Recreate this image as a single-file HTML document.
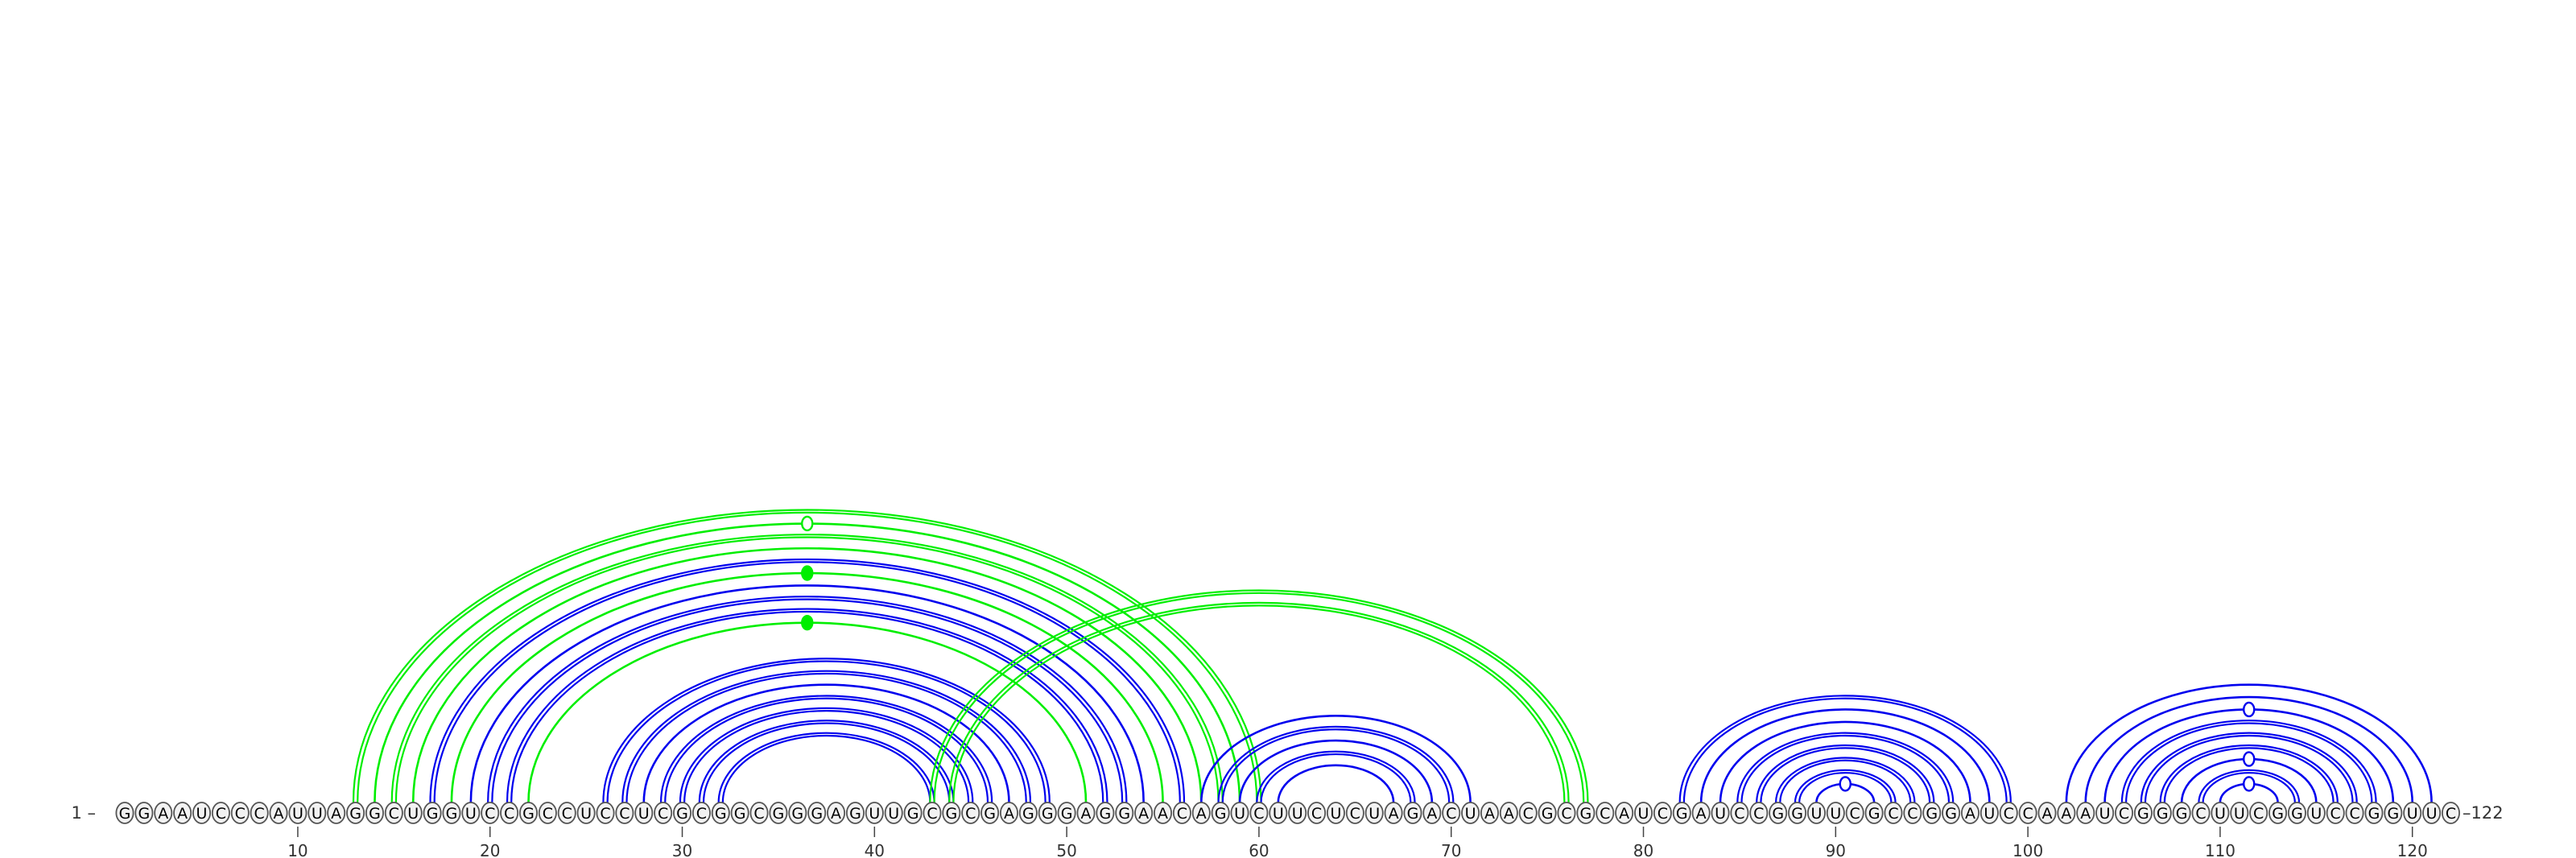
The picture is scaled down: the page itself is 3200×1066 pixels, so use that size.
<!DOCTYPE html>
<html><head><meta charset="utf-8"><style>
html,body{margin:0;padding:0;background:#fff;}
svg{display:block;}
text{font-family:"DejaVu Sans","Liberation Sans",sans-serif;}
</style></head><body>
<svg id="chart" width="3200" height="1066" viewBox="0 0 3200 1066" xmlns="http://www.w3.org/2000/svg">
<g id="arcs"></g>
<g id="nts"></g>
<g id="ticks"></g>
<text x="119" y="1017" font-size="21" fill="#333" text-anchor="end">1 –</text>
<text x="3059" y="1017" font-size="21" fill="#333">–122</text>
</svg>
<script>
const sequence = "GGAAUCCCAUUAGGCUGGUCCGCCUCCUCGCGGCGGGAGUUGCGCGAGGGAGGAACAGUCUUCUCUAGACUAACGCGCAUCGAUCCGGUUCGCCGGAUCCAAAUCGGGCUUCGGUCCGGUUC";
const pairLeft  = [13,14,15,16,17,18,19,20,21,22, 26,27,28,29,30,31,32, 43,44, 57,58,59,60,61, 82,83,84,85,86,87,88,89, 102,103,104,105,106,107,108,109,110];
const pairRight = [60,59,58,57,56,55,54,53,52,51, 49,48,47,46,45,44,43, 77,76, 71,70,69,68,67, 99,98,97,96,95,94,93,92, 121,120,119,118,117,116,115,114,113];
const pairColor = ["g","g","g","g","b","g","b","b","b","g", "b","b","b","b","b","b","b", "g","g", "b","b","b","b","b", "b","b","b","b","b","b","b","b", "b","b","b","b","b","b","b","b","b"];
const pairDouble= [1,0,1,0,1,0,0,1,1,0, 1,1,0,1,1,1,1, 1,1, 0,1,0,1,0, 1,0,0,1,1,1,1,0, 0,0,0,1,1,1,0,1,0];
const pairMarker= ["","open","","","","fill","","","","fill", "","","","","","","", "","", "","","","","", "","","","","","","","open", "","","open","","","","open","","open"];
const tickValues = [10,20,30,40,50,60,70,80,90,100,110,120];

const NS="http://www.w3.org/2000/svg";
const x0=155, step=23.88, baseY=1010, arcBase=997, ratio=0.645;
const xPos=p=>x0+(p-1)*step;
const colors={g:"#00ee00",b:"#0000ee"};
function mk(tag,attrs,parent){const e=document.createElementNS(NS,tag);for(const k in attrs)e.setAttribute(k,attrs[k]);parent.appendChild(e);return e;}
const arcs=document.getElementById('arcs');
function arcPath(a,b,off){const x1=xPos(a)-off,x2=xPos(b)+off;const rx=(x2-x1)/2;const ry=rx*ratio;return `M${x1},${arcBase} A${rx},${ry} 0 0 1 ${x2},${arcBase}`;}
for(let i=0;i<pairLeft.length;i++){
  const a=pairLeft[i],b=pairRight[i],c=colors[pairColor[i]];
  const offs=pairDouble[i]?[-2.6,2.6]:[0];
  offs.forEach(o=>{
    const p=mk('path',{d:arcPath(a,b,o),fill:"none",stroke:c,"stroke-width":pairDouble[i]?2.2:2.6},arcs);
    
    
  });
  if(pairMarker[i]){
    const rx=(xPos(b)-xPos(a))/2;
    const m=mk('ellipse',{cx:(xPos(a)+xPos(b))/2,cy:arcBase-rx*ratio,rx:6.5,ry:8.5,fill:pairMarker[i]==="fill"?c:"#fff",stroke:c,"stroke-width":2.4},arcs);
    
    
  }
}
const nts=document.getElementById('nts');
for(let i=0;i<sequence.length;i++){
  const g=mk('g',{},nts);
  
  
  mk('ellipse',{cx:xPos(i+1),cy:baseY,rx:10.6,ry:13,fill:"#f2f2f2",stroke:"#555","stroke-width":1.8},g);
  const t=mk('text',{x:xPos(i+1),y:baseY+7,"font-size":19,"text-anchor":"middle",fill:"#000"},g);
  t.textContent=sequence[i];
}
const ticks=document.getElementById('ticks');
tickValues.forEach(v=>{
  const l=mk('line',{x1:xPos(v),x2:xPos(v),y1:1027,y2:1040,stroke:"#444","stroke-width":1.5},ticks);
  
  
  const t=mk('text',{x:xPos(v),y:1064,"font-size":20,"text-anchor":"middle",fill:"#333"},ticks);
  
  
  t.textContent=v;
});
</script>
</body></html>
